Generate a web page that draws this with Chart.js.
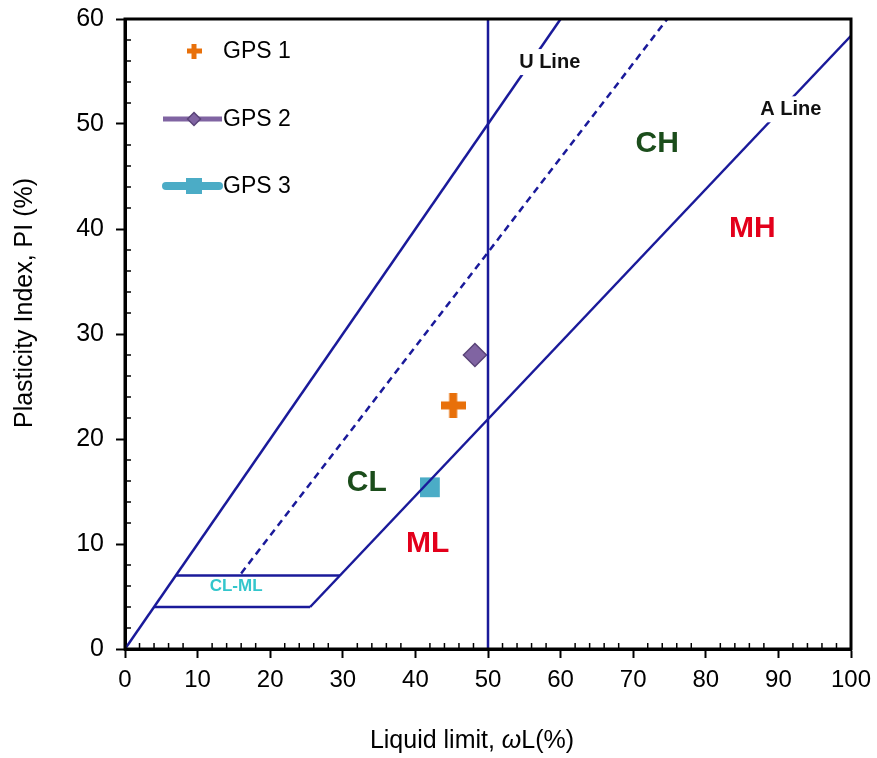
<!DOCTYPE html>
<html>
<head>
<meta charset="utf-8">
<script src="https://cdn.jsdelivr.net/npm/chart.js@4/dist/chart.umd.min.js"></script>
<style>
  body { margin: 0; background: #fff; }
  #wrap { width: 877px; height: 758px; }
</style>
</head>
<body>
<div id="wrap"><canvas id="plasticity"></canvas></div>
<script>
// samples
const sampleNames = ['GPS 1', 'GPS 2', 'GPS 3'];
const sampleLL = [45.2, 48.2, 42.0];
const samplePI = [23.2, 28.0, 15.4];

// reference lines (liquid limit, plasticity index)
const upperLL = [0, 60];        const upperPI = [0, 60];
const uLineLL = [16, 74.7];     const uLinePI = [7.2, 60];
const aLineLL = [25.5, 100];    const aLinePI = [4, 58.4];
const clmlTopLL = [7, 29.6];    const clmlTopPI = [7, 7];
const clmlBotLL = [4, 25.5];    const clmlBotPI = [4, 4];
const llFiftyLL = [50, 50];     const llFiftyPI = [0, 60];

// zone labels
const zoneText = ['U Line', 'A Line', 'CH', 'MH', 'CL', 'ML', 'CL-ML'];
const zoneLL = [58.5, 91.7, 73.3, 86.4, 33.3, 41.7, 15.3];
const zonePI = [55.9, 51.4, 48.1, 40.0, 15.8, 10.0, 6.0];

const xTicks = [0, 10, 20, 30, 40, 50, 60, 70, 80, 90, 100];
const yTicks = [0, 10, 20, 30, 40, 50, 60];

const FONT = 'Arial, "Liberation Sans"';
const navy = '#1a1a9a';
const zoneStyle = {
  'U Line': { font: 'bold 20px ' + FONT, color: '#111', bg: true },
  'A Line': { font: 'bold 20px ' + FONT, color: '#111', bg: true },
  'CH': { font: 'bold 30px ' + FONT, color: '#1b4d1b' },
  'MH': { font: 'bold 30px ' + FONT, color: '#e3001b' },
  'CL': { font: 'bold 30px ' + FONT, color: '#1b4d1b' },
  'ML': { font: 'bold 30px ' + FONT, color: '#e3001b' },
  'CL-ML': { font: 'bold 17px ' + FONT, color: '#33c6cc' }
};

function pts(xs, ys) {
  return xs.map((x, i) => ({ x: x, y: ys[i] }));
}

function refLine(xs, ys, dash) {
  return {
    data: pts(xs, ys),
    showLine: true,
    borderColor: navy,
    borderWidth: 2.5,
    borderDash: dash || [],
    pointRadius: 0,
    fill: false
  };
}

// filled plus sign
function plusImage(size, thick, color) {
  const c = document.createElement('canvas');
  c.width = size; c.height = size;
  const g = c.getContext('2d');
  g.fillStyle = color;
  g.fillRect((size - thick) / 2, 0, thick, size);
  g.fillRect(0, (size - thick) / 2, size, thick);
  return c;
}

const markerStyles = [
  { pointStyle: plusImage(25, 8, '#e8700a'), radius: 12, color: '#e8700a', border: '#e8700a', bw: 0 },
  { pointStyle: 'rectRot', radius: 11.5, color: '#8064a2', border: '#5a4478', bw: 1.5 },
  { pointStyle: 'rect', radius: 14, color: '#4bacc6', border: '#4bacc6', bw: 0 }
];

const sampleSets = sampleNames.map((name, i) => ({
  label: name,
  data: [{ x: sampleLL[i], y: samplePI[i] }],
  pointStyle: markerStyles[i].pointStyle,
  pointRadius: markerStyles[i].radius,
  backgroundColor: markerStyles[i].color,
  borderColor: markerStyles[i].border,
  pointBorderWidth: markerStyles[i].bw,
  showLine: false
}));

function noPad(s) {
  s.paddingTop = 0; s.paddingBottom = 0;
  s.paddingLeft = 0; s.paddingRight = 0;
}

const chartExtras = {
  id: 'chartExtras',
  afterDatasetsDraw(chart) {
    const { ctx, chartArea: a, scales } = chart;
    const xs = scales.x, ys = scales.y;
    ctx.save();

    // zone labels
    ctx.textAlign = 'center';
    ctx.textBaseline = 'middle';
    zoneText.forEach((t, i) => {
      const s = zoneStyle[t];
      const px = xs.getPixelForValue(zoneLL[i]);
      const py = ys.getPixelForValue(zonePI[i]);
      ctx.font = s.font;
      if (s.bg) {
        const w = ctx.measureText(t).width;
        ctx.fillStyle = '#fff';
        ctx.fillRect(px - w / 2 - 4, py - 13, w + 8, 26);
      }
      ctx.fillStyle = s.color;
      ctx.fillText(t, px, py);
    });

    // legend inside plot
    const legX = 163, legY = [51, 119, 186];
    ctx.textAlign = 'left';
    sampleNames.forEach((n, i) => {
      const y = legY[i];
      const cx = legX + 31;
      if (i === 0) {
        ctx.drawImage(plusImage(15, 5, '#e8700a'), cx - 7.5, y - 7.5);
      } else if (i === 1) {
        ctx.strokeStyle = '#8064a2';
        ctx.lineWidth = 5;
        ctx.beginPath(); ctx.moveTo(legX, y); ctx.lineTo(legX + 59, y); ctx.stroke();
        ctx.fillStyle = '#8064a2';
        ctx.strokeStyle = '#5a4478';
        ctx.lineWidth = 1.5;
        ctx.beginPath();
        ctx.moveTo(cx, y - 6.5); ctx.lineTo(cx + 6.5, y); ctx.lineTo(cx, y + 6.5); ctx.lineTo(cx - 6.5, y);
        ctx.closePath(); ctx.fill(); ctx.stroke();
      } else {
        ctx.strokeStyle = '#4bacc6';
        ctx.lineWidth = 8;
        ctx.lineCap = 'round';
        ctx.beginPath(); ctx.moveTo(legX + 3, y); ctx.lineTo(legX + 56, y); ctx.stroke();
        ctx.lineCap = 'butt';
        ctx.fillStyle = '#4bacc6';
        ctx.fillRect(cx - 8, y - 8, 16, 16);
      }
      ctx.fillStyle = '#000';
      ctx.textBaseline = 'middle';
      ctx.font = '23px ' + FONT;
      ctx.fillText(n, legX + 60, y + 1);
    });

    // minor ticks inside the axes
    ctx.strokeStyle = '#000';
    ctx.lineWidth = 1.5;
    for (let v = 2; v < 100; v += 2) {
      if (v % 10 === 0) continue;
      const px = xs.getPixelForValue(v);
      ctx.beginPath(); ctx.moveTo(px, a.bottom); ctx.lineTo(px, a.bottom - 6); ctx.stroke();
    }
    for (let v = 2; v < 60; v += 2) {
      if (v % 10 === 0) continue;
      const py = ys.getPixelForValue(v);
      ctx.beginPath(); ctx.moveTo(a.left, py); ctx.lineTo(a.left + 6, py); ctx.stroke();
    }

    // frame
    ctx.lineWidth = 3;
    ctx.strokeRect(a.left, a.top, a.right - a.left, a.bottom - a.top);

    // y axis title
    ctx.fillStyle = '#000';
    ctx.save();
    ctx.translate(25, 303);
    ctx.rotate(-Math.PI / 2);
    ctx.textAlign = 'center';
    ctx.textBaseline = 'middle';
    ctx.font = '25px ' + FONT;
    ctx.fillText('Plasticity Index, PI (%)', 0, 0);
    ctx.restore();

    // x axis title with italic omega
    ctx.textAlign = 'left';
    ctx.textBaseline = 'alphabetic';
    const p1 = 'Liquid limit, ', p2 = '\u03C9', p3 = 'L(%)';
    ctx.font = '25px ' + FONT;
    const w1 = ctx.measureText(p1).width, w3 = ctx.measureText(p3).width;
    ctx.font = 'italic 25px ' + FONT;
    const w2 = ctx.measureText(p2).width;
    const sx = 472 - (w1 + w2 + w3) / 2;
    const ty = 748;
    ctx.font = '25px ' + FONT;
    ctx.fillText(p1, sx, ty);
    ctx.font = 'italic 25px ' + FONT;
    ctx.fillText(p2, sx + w1, ty);
    ctx.font = '25px ' + FONT;
    ctx.fillText(p3, sx + w1 + w2, ty);
    ctx.restore();
  }
};

new Chart(document.getElementById('plasticity'), {
  type: 'scatter',
  data: {
    datasets: [
      refLine(upperLL, upperPI),
      refLine(uLineLL, uLinePI, [7, 5]),
      refLine(aLineLL, aLinePI),
      refLine(clmlTopLL, clmlTopPI),
      refLine(clmlBotLL, clmlBotPI),
      refLine(llFiftyLL, llFiftyPI),
      ...sampleSets
    ]
  },
  options: {
    responsive: true,
    maintainAspectRatio: false,
    animation: false,
    layout: { padding: { top: 19, right: 26, left: 0, bottom: 0 } },
    plugins: {
      legend: { display: false },
      tooltip: { enabled: false }
    },
    scales: {
      x: {
        type: 'linear',
        min: 0,
        max: 100,
        afterBuildTicks: (s) => { s.ticks = xTicks.map(v => ({ value: v })); },
        afterFit: (s) => { s.height = 109; noPad(s); },
        ticks: {
          color: '#000',
          font: { size: 24, family: FONT },
          padding: 8
        },
        grid: { drawOnChartArea: false, tickLength: 9, tickWidth: 2, color: '#000' },
        border: { width: 3, color: '#000' }
      },
      y: {
        type: 'linear',
        min: 0,
        max: 60,
        afterBuildTicks: (s) => { s.ticks = yTicks.map(v => ({ value: v })); },
        afterFit: (s) => { s.width = 125; noPad(s); },
        ticks: {
          color: '#000',
          font: { size: 25, family: FONT },
          padding: 12
        },
        grid: { drawOnChartArea: false, tickLength: 9, tickWidth: 2, color: '#000' },
        border: { width: 3, color: '#000' }
      }
    }
  },
  plugins: [chartExtras]
});
</script>
</body>
</html>
